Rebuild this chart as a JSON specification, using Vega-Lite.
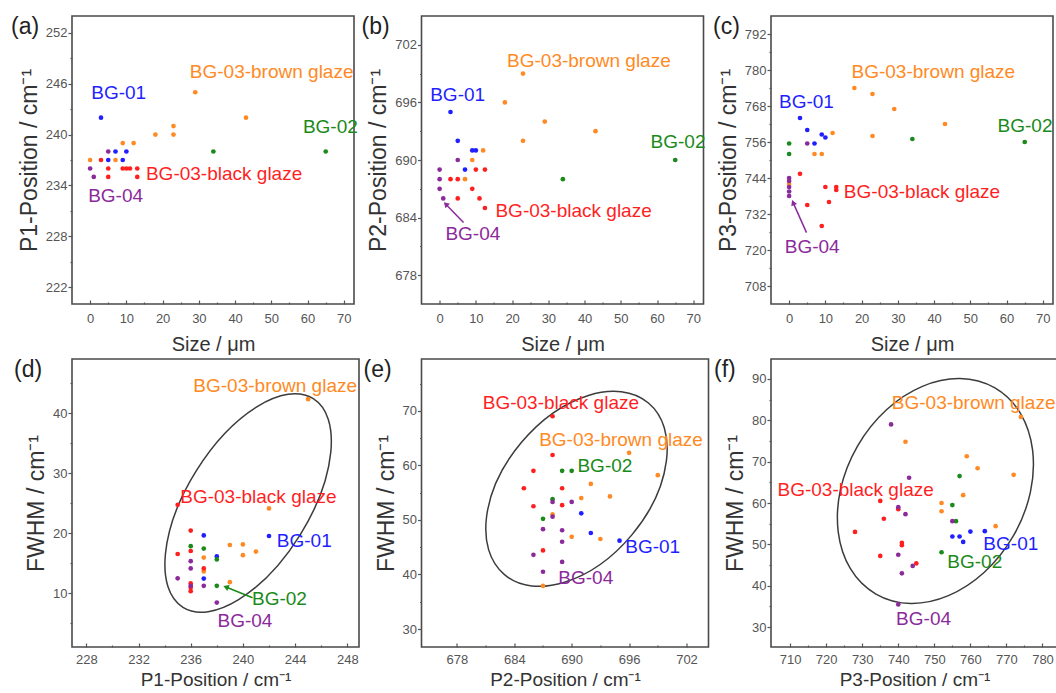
{
  "$schema": "https://vega.github.io/schema/vega-lite/v6.json",
  "padding": {"left": 10, "top": 15, "right": 2, "bottom": 2},
  "background": "white",
  "datasets": {
    "pts": [
      {"p":"a","g":"BG-01","x":3,"y":242},{"p":"a","g":"BG-01","x":7,"y":238},{"p":"a","g":"BG-01","x":10,"y":238},{"p":"a","g":"BG-01","x":5,"y":237},{"p":"a","g":"BG-01","x":9,"y":237},
      {"p":"a","g":"BG-03-brown glaze","x":29,"y":245},{"p":"a","g":"BG-03-brown glaze","x":43,"y":242},{"p":"a","g":"BG-03-brown glaze","x":23,"y":241},{"p":"a","g":"BG-03-brown glaze","x":18,"y":240},{"p":"a","g":"BG-03-brown glaze","x":23,"y":240},{"p":"a","g":"BG-03-brown glaze","x":9,"y":239},{"p":"a","g":"BG-03-brown glaze","x":12,"y":239},{"p":"a","g":"BG-03-brown glaze","x":0,"y":237},{"p":"a","g":"BG-03-brown glaze","x":7,"y":237},
      {"p":"a","g":"BG-03-black glaze","x":3,"y":237},{"p":"a","g":"BG-03-black glaze","x":5,"y":236},{"p":"a","g":"BG-03-black glaze","x":9,"y":236},{"p":"a","g":"BG-03-black glaze","x":10,"y":236},{"p":"a","g":"BG-03-black glaze","x":11,"y":236},{"p":"a","g":"BG-03-black glaze","x":13,"y":236},{"p":"a","g":"BG-03-black glaze","x":5,"y":235},{"p":"a","g":"BG-03-black glaze","x":13,"y":235},
      {"p":"a","g":"BG-02","x":34,"y":238},{"p":"a","g":"BG-02","x":65,"y":238},
      {"p":"a","g":"BG-04","x":5,"y":238},{"p":"a","g":"BG-04","x":0,"y":236},{"p":"a","g":"BG-04","x":1,"y":235},

      {"p":"b","g":"BG-01","x":3,"y":695},{"p":"b","g":"BG-01","x":5,"y":692},{"p":"b","g":"BG-01","x":9,"y":691},{"p":"b","g":"BG-01","x":10,"y":691},{"p":"b","g":"BG-01","x":7,"y":689},
      {"p":"b","g":"BG-03-brown glaze","x":23,"y":699},{"p":"b","g":"BG-03-brown glaze","x":18,"y":696},{"p":"b","g":"BG-03-brown glaze","x":29,"y":694},{"p":"b","g":"BG-03-brown glaze","x":43,"y":693},{"p":"b","g":"BG-03-brown glaze","x":23,"y":692},{"p":"b","g":"BG-03-brown glaze","x":12,"y":691},{"p":"b","g":"BG-03-brown glaze","x":9,"y":690},{"p":"b","g":"BG-03-brown glaze","x":7,"y":688},
      {"p":"b","g":"BG-03-black glaze","x":10,"y":689},{"p":"b","g":"BG-03-black glaze","x":12.5,"y":689},{"p":"b","g":"BG-03-black glaze","x":3,"y":688},{"p":"b","g":"BG-03-black glaze","x":5,"y":688},{"p":"b","g":"BG-03-black glaze","x":9,"y":687},{"p":"b","g":"BG-03-black glaze","x":5,"y":686},{"p":"b","g":"BG-03-black glaze","x":11,"y":686},{"p":"b","g":"BG-03-black glaze","x":12.5,"y":685},
      {"p":"b","g":"BG-02","x":65,"y":690},{"p":"b","g":"BG-02","x":34,"y":688},
      {"p":"b","g":"BG-04","x":5,"y":690},{"p":"b","g":"BG-04","x":0,"y":689},{"p":"b","g":"BG-04","x":0,"y":688},{"p":"b","g":"BG-04","x":0,"y":687},{"p":"b","g":"BG-04","x":1,"y":686},

      {"p":"c","g":"BG-01","x":3,"y":764},{"p":"c","g":"BG-01","x":5,"y":760},{"p":"c","g":"BG-01","x":9,"y":758.5},{"p":"c","g":"BG-01","x":10,"y":757.5},{"p":"c","g":"BG-01","x":7,"y":755.5},
      {"p":"c","g":"BG-03-brown glaze","x":18,"y":774},{"p":"c","g":"BG-03-brown glaze","x":23,"y":772},{"p":"c","g":"BG-03-brown glaze","x":29,"y":767},{"p":"c","g":"BG-03-brown glaze","x":43,"y":762},{"p":"c","g":"BG-03-brown glaze","x":12,"y":759},{"p":"c","g":"BG-03-brown glaze","x":23,"y":758},{"p":"c","g":"BG-03-brown glaze","x":7,"y":752},{"p":"c","g":"BG-03-brown glaze","x":9,"y":752},{"p":"c","g":"BG-03-brown glaze","x":0,"y":742},
      {"p":"c","g":"BG-03-black glaze","x":3,"y":745.4},{"p":"c","g":"BG-03-black glaze","x":10,"y":741},{"p":"c","g":"BG-03-black glaze","x":13,"y":741},{"p":"c","g":"BG-03-black glaze","x":13,"y":740},{"p":"c","g":"BG-03-black glaze","x":11,"y":736},{"p":"c","g":"BG-03-black glaze","x":5,"y":735},{"p":"c","g":"BG-03-black glaze","x":9,"y":728},
      {"p":"c","g":"BG-02","x":34,"y":757},{"p":"c","g":"BG-02","x":65,"y":756},{"p":"c","g":"BG-02","x":0,"y":755.5},{"p":"c","g":"BG-02","x":0,"y":752},
      {"p":"c","g":"BG-04","x":5,"y":755.5},{"p":"c","g":"BG-04","x":0,"y":744},{"p":"c","g":"BG-04","x":0,"y":743},{"p":"c","g":"BG-04","x":0,"y":741},{"p":"c","g":"BG-04","x":0,"y":739.5},{"p":"c","g":"BG-04","x":0,"y":738},

      {"p":"d","g":"BG-01","x":242,"y":19.5},{"p":"d","g":"BG-01","x":237,"y":19.6},{"p":"d","g":"BG-01","x":238,"y":16.1},{"p":"d","g":"BG-01","x":237,"y":12.4},
      {"p":"d","g":"BG-03-brown glaze","x":245,"y":42.3},{"p":"d","g":"BG-03-brown glaze","x":242,"y":24.1},{"p":"d","g":"BG-03-brown glaze","x":239,"y":18},{"p":"d","g":"BG-03-brown glaze","x":240,"y":18.1},{"p":"d","g":"BG-03-brown glaze","x":240,"y":16.3},{"p":"d","g":"BG-03-brown glaze","x":241,"y":16.9},{"p":"d","g":"BG-03-brown glaze","x":237,"y":15.9},{"p":"d","g":"BG-03-brown glaze","x":237,"y":13.6},{"p":"d","g":"BG-03-brown glaze","x":239,"y":11.8},
      {"p":"d","g":"BG-03-black glaze","x":235,"y":24.7},{"p":"d","g":"BG-03-black glaze","x":236,"y":20.4},{"p":"d","g":"BG-03-black glaze","x":236,"y":17.0},{"p":"d","g":"BG-03-black glaze","x":235,"y":16.5},{"p":"d","g":"BG-03-black glaze","x":237,"y":14.1},{"p":"d","g":"BG-03-black glaze","x":236,"y":11.6},{"p":"d","g":"BG-03-black glaze","x":236,"y":10.9},{"p":"d","g":"BG-03-black glaze","x":236,"y":10.3},
      {"p":"d","g":"BG-02","x":236,"y":17.8},{"p":"d","g":"BG-02","x":237,"y":17.4},{"p":"d","g":"BG-02","x":238,"y":15.6},{"p":"d","g":"BG-02","x":238,"y":11.2},
      {"p":"d","g":"BG-04","x":236,"y":15.3},{"p":"d","g":"BG-04","x":236,"y":14.1},{"p":"d","g":"BG-04","x":235,"y":12.45},{"p":"d","g":"BG-04","x":237,"y":11.2},{"p":"d","g":"BG-04","x":236,"y":11.2},{"p":"d","g":"BG-04","x":238,"y":8.4},

      {"p":"e","g":"BG-01","x":695,"y":46.2},{"p":"e","g":"BG-01","x":692,"y":47.6},{"p":"e","g":"BG-01","x":691,"y":51.2},
      {"p":"e","g":"BG-03-brown glaze","x":696,"y":62.3},{"p":"e","g":"BG-03-brown glaze","x":699,"y":58.2},{"p":"e","g":"BG-03-brown glaze","x":692,"y":56.6},{"p":"e","g":"BG-03-brown glaze","x":691,"y":54},{"p":"e","g":"BG-03-brown glaze","x":694,"y":54.3},{"p":"e","g":"BG-03-brown glaze","x":688,"y":51},{"p":"e","g":"BG-03-brown glaze","x":690,"y":46.9},{"p":"e","g":"BG-03-brown glaze","x":693,"y":46.5},{"p":"e","g":"BG-03-brown glaze","x":687,"y":37.9},
      {"p":"e","g":"BG-03-black glaze","x":688,"y":69},{"p":"e","g":"BG-03-black glaze","x":688,"y":61.9},{"p":"e","g":"BG-03-black glaze","x":686,"y":59},{"p":"e","g":"BG-03-black glaze","x":685,"y":55.8},{"p":"e","g":"BG-03-black glaze","x":689,"y":55.8},{"p":"e","g":"BG-03-black glaze","x":689,"y":52.7},{"p":"e","g":"BG-03-black glaze","x":686,"y":52.5},{"p":"e","g":"BG-03-black glaze","x":687,"y":44.4},
      {"p":"e","g":"BG-02","x":689,"y":59},{"p":"e","g":"BG-02","x":690,"y":59},{"p":"e","g":"BG-02","x":688,"y":53.8},{"p":"e","g":"BG-02","x":687,"y":50.2},
      {"p":"e","g":"BG-04","x":688,"y":53.3},{"p":"e","g":"BG-04","x":690,"y":53.3},{"p":"e","g":"BG-04","x":688,"y":50.6},{"p":"e","g":"BG-04","x":687,"y":48.3},{"p":"e","g":"BG-04","x":689,"y":48.1},{"p":"e","g":"BG-04","x":689,"y":46},{"p":"e","g":"BG-04","x":686,"y":43.6},{"p":"e","g":"BG-04","x":689,"y":42.3},{"p":"e","g":"BG-04","x":687,"y":40.5},

      {"p":"f","g":"BG-01","x":755,"y":51.9},{"p":"f","g":"BG-01","x":757,"y":51.9},{"p":"f","g":"BG-01","x":758,"y":50.6},{"p":"f","g":"BG-01","x":760,"y":53.1},{"p":"f","g":"BG-01","x":764,"y":53.2},
      {"p":"f","g":"BG-03-brown glaze","x":774,"y":80.8},{"p":"f","g":"BG-03-brown glaze","x":742,"y":74.8},{"p":"f","g":"BG-03-brown glaze","x":759,"y":71.3},{"p":"f","g":"BG-03-brown glaze","x":762,"y":68.4},{"p":"f","g":"BG-03-brown glaze","x":772,"y":66.8},{"p":"f","g":"BG-03-brown glaze","x":758,"y":61.9},{"p":"f","g":"BG-03-brown glaze","x":752,"y":60},{"p":"f","g":"BG-03-brown glaze","x":752,"y":58},{"p":"f","g":"BG-03-brown glaze","x":767,"y":54.4},
      {"p":"f","g":"BG-03-black glaze","x":735,"y":60.5},{"p":"f","g":"BG-03-black glaze","x":740,"y":58.5},{"p":"f","g":"BG-03-black glaze","x":736,"y":56.2},{"p":"f","g":"BG-03-black glaze","x":728,"y":53},{"p":"f","g":"BG-03-black glaze","x":741,"y":50.4},{"p":"f","g":"BG-03-black glaze","x":741,"y":49.8},{"p":"f","g":"BG-03-black glaze","x":735,"y":47.2},{"p":"f","g":"BG-03-black glaze","x":745,"y":45.4},
      {"p":"f","g":"BG-02","x":757,"y":66.5},{"p":"f","g":"BG-02","x":755,"y":59.5},{"p":"f","g":"BG-02","x":756,"y":55.6},{"p":"f","g":"BG-02","x":752,"y":48.1},
      {"p":"f","g":"BG-04","x":738,"y":79},{"p":"f","g":"BG-04","x":743,"y":66.1},{"p":"f","g":"BG-04","x":740,"y":59},{"p":"f","g":"BG-04","x":742,"y":57.3},{"p":"f","g":"BG-04","x":755,"y":55.6},{"p":"f","g":"BG-04","x":740,"y":47.5},{"p":"f","g":"BG-04","x":744,"y":44.8},{"p":"f","g":"BG-04","x":741,"y":43},{"p":"f","g":"BG-04","x":740,"y":35.5}
    ],
    "lab": [
      {"p":"a","g":"BG-01","t":"BG-01","x":0.3,"y":244.9},{"p":"a","g":"BG-03-brown glaze","t":"BG-03-brown glaze","x":27.5,"y":247.4},{"p":"a","g":"BG-02","t":"BG-02","x":58.7,"y":240.9},{"p":"a","g":"BG-03-black glaze","t":"BG-03-black glaze","x":15.4,"y":235.35},{"p":"a","g":"BG-04","t":"BG-04","x":-0.55,"y":232.75},
      {"p":"b","g":"BG-03-brown glaze","t":"BG-03-brown glaze","x":18.6,"y":700.3},{"p":"b","g":"BG-01","t":"BG-01","x":-2.6,"y":696.8},{"p":"b","g":"BG-02","t":"BG-02","x":58.2,"y":691.9},{"p":"b","g":"BG-03-black glaze","t":"BG-03-black glaze","x":15.4,"y":684.7},{"p":"b","g":"BG-04","t":"BG-04","x":1.6,"y":682.25},
      {"p":"c","g":"BG-03-brown glaze","t":"BG-03-brown glaze","x":17.2,"y":779.2},{"p":"c","g":"BG-01","t":"BG-01","x":-2.8,"y":769.2},{"p":"c","g":"BG-02","t":"BG-02","x":57.5,"y":761.2},{"p":"c","g":"BG-03-black glaze","t":"BG-03-black glaze","x":15.1,"y":739.3},{"p":"c","g":"BG-04","t":"BG-04","x":-1.2,"y":721.1},
      {"p":"d","g":"BG-03-brown glaze","t":"BG-03-brown glaze","x":236.2,"y":44.5},{"p":"d","g":"BG-03-black glaze","t":"BG-03-black glaze","x":235.2,"y":26.05},{"p":"d","g":"BG-01","t":"BG-01","x":242.6,"y":18.7},{"p":"d","g":"BG-02","t":"BG-02","x":240.7,"y":8.95},{"p":"d","g":"BG-04","t":"BG-04","x":238.05,"y":5.4},
      {"p":"e","g":"BG-03-black glaze","t":"BG-03-black glaze","x":680.7,"y":71.5},{"p":"e","g":"BG-03-brown glaze","t":"BG-03-brown glaze","x":686.6,"y":64.6},{"p":"e","g":"BG-02","t":"BG-02","x":690.6,"y":59.8},{"p":"e","g":"BG-01","t":"BG-01","x":695.6,"y":45.1},{"p":"e","g":"BG-04","t":"BG-04","x":688.6,"y":39.3},
      {"p":"f","g":"BG-03-brown glaze","t":"BG-03-brown glaze","x":738.2,"y":84.1},{"p":"f","g":"BG-03-black glaze","t":"BG-03-black glaze","x":706.5,"y":63.1},{"p":"f","g":"BG-01","t":"BG-01","x":763.6,"y":50.2},{"p":"f","g":"BG-02","t":"BG-02","x":753.6,"y":45.8},{"p":"f","g":"BG-04","t":"BG-04","x":739.4,"y":32.05}
    ],
    "arr": [
      {"p":"b","g":"BG-04","x":1.7,"y":685.4,"x2":6.6,"y2":683.5},
      {"p":"c","g":"BG-04","x":1.1,"y":735.8,"x2":4.8,"y2":725.8},
      {"p":"d","g":"BG-02","x":238.7,"y":11.0,"x2":240.74,"y2":9.22}
    ],
    "ell": [
      {"p":"d","x":240.4,"y":25},
      {"p":"e","x":690.5,"y":55.7},
      {"p":"f","x":750.3,"y":62.9}
    ]
  },
  "concat": [
    {
      "width": 282, "height": 288,
      "title": {"text": "(a)", "anchor": "start", "frame": "group", "baseline": "top", "offset": 0, "dx": -61, "dy": 23},
      "encoding": {
        "x": {"field": "x", "type": "quantitative", "scale": {"domain": [-5, 72.8], "nice": false, "zero": false},
              "axis": {"title": "Size / μm", "values": [0,5,10,15,20,25,30,35,40,45,50,55,60,65,70], "labelExpr": "datum.value % 10 === 0 ? datum.label : ''", "tickSize": {"condition": {"test": "datum.value % 10 === 0", "value": -4}, "value": -2}, "labelPadding": 12, "titlePadding": 7}},
        "y": {"field": "y", "type": "quantitative", "scale": {"domain": [220, 254], "nice": false, "zero": false},
              "axis": {"title": "P1-Position / cm⁻¹", "values": [222,225,228,231,234,237,240,243,246,249,252], "labelExpr": "datum.value % 6 === 0 ? datum.label : ''", "tickSize": {"condition": {"test": "datum.value % 6 === 0", "value": 4}, "value": 2}, "labelPadding": 1, "titlePadding": 4}}
      },
      "layer": [
        {"data": {"name": "pts"}, "transform": [{"filter": "datum.p === 'a'"}], "mark": {"type": "circle", "size": 22, "opacity": 1},
         "encoding": {"color": {"field": "g", "type": "nominal", "scale": {"domain": ["BG-01","BG-02","BG-03-brown glaze","BG-03-black glaze","BG-04"], "range": ["#1f1fff","#1a8a1a","#ff8a24","#ff1f1f","#8b2a9b"]}, "legend": null}}},
        {"data": {"name": "lab"}, "transform": [{"filter": "datum.p === 'a'"}], "mark": {"type": "text", "align": "left", "baseline": "middle", "fontSize": 19},
         "encoding": {"text": {"field": "t"}, "color": {"field": "g", "type": "nominal", "legend": null}}}
      ]
    },
    {
      "width": 282, "height": 288,
      "title": {"text": "(b)", "anchor": "start", "frame": "group", "baseline": "top", "offset": 0, "dx": -60, "dy": 23},
      "encoding": {
        "x": {"field": "x", "type": "quantitative", "scale": {"domain": [-5, 72.8], "nice": false, "zero": false},
              "axis": {"title": "Size / μm", "values": [0,5,10,15,20,25,30,35,40,45,50,55,60,65,70], "labelExpr": "datum.value % 10 === 0 ? datum.label : ''", "tickSize": {"condition": {"test": "datum.value % 10 === 0", "value": -4}, "value": -2}, "labelPadding": 12, "titlePadding": 7}},
        "y": {"field": "y", "type": "quantitative", "scale": {"domain": [675, 705], "nice": false, "zero": false},
              "axis": {"title": "P2-Position / cm⁻¹", "values": [678,681,684,687,690,693,696,699,702], "labelExpr": "datum.value % 6 === 0 ? datum.label : ''", "tickSize": {"condition": {"test": "datum.value % 6 === 0", "value": 4}, "value": 2}, "labelPadding": 1, "titlePadding": 4}}
      },
      "layer": [
        {"data": {"name": "pts"}, "transform": [{"filter": "datum.p === 'b'"}], "mark": {"type": "circle", "size": 22, "opacity": 1},
         "encoding": {"color": {"field": "g", "type": "nominal", "legend": null}}},
        {"data": {"name": "arr"}, "transform": [{"filter": "datum.p === 'b'"}], "mark": {"type": "rule", "strokeWidth": 1.5},
         "encoding": {"x2": {"field": "x2"}, "y2": {"field": "y2"}, "color": {"field": "g", "type": "nominal", "legend": null}}},
        {"data": {"name": "arr"}, "transform": [{"filter": "datum.p === 'b'"}], "mark": {"type": "point", "shape": "triangle-up", "filled": true, "size": 40, "angle": 315, "opacity": 1},
         "encoding": {"color": {"field": "g", "type": "nominal", "legend": null}}},
        {"data": {"name": "lab"}, "transform": [{"filter": "datum.p === 'b'"}], "mark": {"type": "text", "align": "left", "baseline": "middle", "fontSize": 19},
         "encoding": {"text": {"field": "t"}, "color": {"field": "g", "type": "nominal", "legend": null}}}
      ]
    },
    {
      "width": 282, "height": 288,
      "title": {"text": "(c)", "anchor": "start", "frame": "group", "baseline": "top", "offset": 0, "dx": -58, "dy": 23},
      "encoding": {
        "x": {"field": "x", "type": "quantitative", "scale": {"domain": [-5, 72.8], "nice": false, "zero": false},
              "axis": {"title": "Size / μm", "values": [0,5,10,15,20,25,30,35,40,45,50,55,60,65,70], "labelExpr": "datum.value % 10 === 0 ? datum.label : ''", "tickSize": {"condition": {"test": "datum.value % 10 === 0", "value": -4}, "value": -2}, "labelPadding": 12, "titlePadding": 7}},
        "y": {"field": "y", "type": "quantitative", "scale": {"domain": [702, 798], "nice": false, "zero": false},
              "axis": {"title": "P3-Position / cm⁻¹", "values": [708,714,720,726,732,738,744,750,756,762,768,774,780,786,792], "labelExpr": "datum.value % 12 === 0 ? datum.label : ''", "tickSize": {"condition": {"test": "datum.value % 12 === 0", "value": 4}, "value": 2}, "labelPadding": 1, "titlePadding": 4}}
      },
      "layer": [
        {"data": {"name": "pts"}, "transform": [{"filter": "datum.p === 'c'"}], "mark": {"type": "circle", "size": 22, "opacity": 1},
         "encoding": {"color": {"field": "g", "type": "nominal", "legend": null}}},
        {"data": {"name": "arr"}, "transform": [{"filter": "datum.p === 'c'"}], "mark": {"type": "rule", "strokeWidth": 1.5},
         "encoding": {"x2": {"field": "x2"}, "y2": {"field": "y2"}, "color": {"field": "g", "type": "nominal", "legend": null}}},
        {"data": {"name": "arr"}, "transform": [{"filter": "datum.p === 'c'"}], "mark": {"type": "point", "shape": "triangle-up", "filled": true, "size": 40, "angle": 337, "opacity": 1},
         "encoding": {"color": {"field": "g", "type": "nominal", "legend": null}}},
        {"data": {"name": "lab"}, "transform": [{"filter": "datum.p === 'c'"}], "mark": {"type": "text", "align": "left", "baseline": "middle", "fontSize": 19},
         "encoding": {"text": {"field": "t"}, "color": {"field": "g", "type": "nominal", "legend": null}}}
      ]
    },
    {
      "width": 287, "height": 288,
      "title": {"text": "(d)", "anchor": "start", "frame": "group", "baseline": "top", "offset": 0, "dx": -58, "dy": 23},
      "encoding": {
        "x": {"field": "x", "type": "quantitative", "scale": {"domain": [226.9, 248.9], "nice": false, "zero": false},
              "axis": {"title": "P1-Position / cm⁻¹", "values": [228,230,232,234,236,238,240,242,244,246,248], "labelExpr": "datum.value % 4 === 0 ? datum.label : ''", "tickSize": {"condition": {"test": "datum.value % 4 === 0", "value": -4}, "value": -2}, "labelPadding": 10, "titlePadding": 2, "titleFontSize": 19}},
        "y": {"field": "y", "type": "quantitative", "scale": {"domain": [1, 49], "nice": false, "zero": false},
              "axis": {"title": "FWHM / cm⁻¹", "values": [5,10,15,20,25,30,35,40,45], "labelExpr": "datum.value % 10 === 0 ? datum.label : ''", "tickSize": {"condition": {"test": "datum.value % 10 === 0", "value": 4}, "value": 2}, "labelPadding": 1, "titlePadding": 4}}
      },
      "layer": [
        {"data": {"name": "ell"}, "transform": [{"filter": "datum.p === 'd'"}], "mark": {"type": "point", "shape": "M -1 0 A 1 0.496 0 0 1 0 -0.496 A 1 0.496 0 0 1 1 0 A 1 0.496 0 0 1 0 0.496 A 1 0.496 0 0 1 -1 0 Z", "size": 60516, "angle": 302, "filled": false, "stroke": "#3c3c3c", "strokeWidth": 1.5, "opacity": 1}},
        {"data": {"name": "pts"}, "transform": [{"filter": "datum.p === 'd'"}], "mark": {"type": "circle", "size": 22, "opacity": 1},
         "encoding": {"color": {"field": "g", "type": "nominal", "legend": null}}},
        {"data": {"name": "arr"}, "transform": [{"filter": "datum.p === 'd'"}], "mark": {"type": "rule", "strokeWidth": 1.5},
         "encoding": {"x2": {"field": "x2"}, "y2": {"field": "y2"}, "color": {"field": "g", "type": "nominal", "legend": null}}},
        {"data": {"name": "arr"}, "transform": [{"filter": "datum.p === 'd'"}], "mark": {"type": "point", "shape": "triangle-up", "filled": true, "size": 40, "angle": 292, "opacity": 1},
         "encoding": {"color": {"field": "g", "type": "nominal", "legend": null}}},
        {"data": {"name": "lab"}, "transform": [{"filter": "datum.p === 'd'"}], "mark": {"type": "text", "align": "left", "baseline": "middle", "fontSize": 19},
         "encoding": {"text": {"field": "t"}, "color": {"field": "g", "type": "nominal", "legend": null}}}
      ]
    },
    {
      "width": 287, "height": 288,
      "title": {"text": "(e)", "anchor": "start", "frame": "group", "baseline": "top", "offset": 0, "dx": -58, "dy": 23},
      "encoding": {
        "x": {"field": "x", "type": "quantitative", "scale": {"domain": [674.3, 704.3], "nice": false, "zero": false},
              "axis": {"title": "P2-Position / cm⁻¹", "values": [678,681,684,687,690,693,696,699,702], "labelExpr": "datum.value % 6 === 0 ? datum.label : ''", "tickSize": {"condition": {"test": "datum.value % 6 === 0", "value": -4}, "value": -2}, "labelPadding": 10, "titlePadding": 2, "titleFontSize": 19}},
        "y": {"field": "y", "type": "quantitative", "scale": {"domain": [26.7, 79.5], "nice": false, "zero": false},
              "axis": {"title": "FWHM / cm⁻¹", "values": [30,35,40,45,50,55,60,65,70,75], "labelExpr": "datum.value % 10 === 0 ? datum.label : ''", "tickSize": {"condition": {"test": "datum.value % 10 === 0", "value": 4}, "value": 2}, "labelPadding": 1, "titlePadding": 4}}
      },
      "layer": [
        {"data": {"name": "ell"}, "transform": [{"filter": "datum.p === 'e'"}], "mark": {"type": "point", "shape": "M -1 0 A 1 0.643 0 0 1 0 -0.643 A 1 0.643 0 0 1 1 0 A 1 0.643 0 0 1 0 0.643 A 1 0.643 0 0 1 -1 0 Z", "size": 50176, "angle": 310, "filled": false, "stroke": "#3c3c3c", "strokeWidth": 1.5, "opacity": 1}},
        {"data": {"name": "pts"}, "transform": [{"filter": "datum.p === 'e'"}], "mark": {"type": "circle", "size": 22, "opacity": 1},
         "encoding": {"color": {"field": "g", "type": "nominal", "legend": null}}},
        {"data": {"name": "lab"}, "transform": [{"filter": "datum.p === 'e'"}], "mark": {"type": "text", "align": "left", "baseline": "middle", "fontSize": 19},
         "encoding": {"text": {"field": "t"}, "color": {"field": "g", "type": "nominal", "legend": null}}}
      ]
    },
    {
      "width": 287, "height": 288,
      "title": {"text": "(f)", "anchor": "start", "frame": "group", "baseline": "top", "offset": 0, "dx": -57, "dy": 23},
      "encoding": {
        "x": {"field": "x", "type": "quantitative", "scale": {"domain": [704.7, 784.3], "nice": false, "zero": false},
              "axis": {"title": "P3-Position / cm⁻¹", "values": [710,715,720,725,730,735,740,745,750,755,760,765,770,775,780], "labelExpr": "datum.value % 10 === 0 ? datum.label : ''", "tickSize": {"condition": {"test": "datum.value % 10 === 0", "value": -4}, "value": -2}, "labelPadding": 10, "titlePadding": 2, "titleFontSize": 19}},
        "y": {"field": "y", "type": "quantitative", "scale": {"domain": [25.2, 94.8], "nice": false, "zero": false},
              "axis": {"title": "FWHM / cm⁻¹", "values": [30,35,40,45,50,55,60,65,70,75,80,85,90], "labelExpr": "datum.value % 10 === 0 ? datum.label : ''", "tickSize": {"condition": {"test": "datum.value % 10 === 0", "value": 4}, "value": 2}, "labelPadding": 1, "titlePadding": 4}}
      },
      "layer": [
        {"data": {"name": "ell"}, "transform": [{"filter": "datum.p === 'f'"}], "mark": {"type": "point", "shape": "M -1 0 A 1 0.756 0 0 1 0 -0.756 A 1 0.756 0 0 1 1 0 A 1 0.756 0 0 1 0 0.756 A 1 0.756 0 0 1 -1 0 Z", "size": 56644, "angle": 300, "filled": false, "stroke": "#3c3c3c", "strokeWidth": 1.5, "opacity": 1}},
        {"data": {"name": "pts"}, "transform": [{"filter": "datum.p === 'f'"}], "mark": {"type": "circle", "size": 22, "opacity": 1},
         "encoding": {"color": {"field": "g", "type": "nominal", "legend": null}}},
        {"data": {"name": "lab"}, "transform": [{"filter": "datum.p === 'f'"}], "mark": {"type": "text", "align": "left", "baseline": "middle", "fontSize": 19},
         "encoding": {"text": {"field": "t"}, "color": {"field": "g", "type": "nominal", "legend": null}}}
      ]
    }
  ],
  "columns": 3,
  "spacing": {"row": 55, "column": 62.5},
  "bounds": "flush",
  "config": {
    "font": "Liberation Sans",
    "view": {"stroke": "#4a4a4a", "strokeWidth": 1.6},
    "axis": {"labelFont": "Liberation Sans", "titleFont": "Liberation Sans", "labelFontSize": 13, "titleFontSize": 20, "labelColor": "#555", "titleColor": "#333", "titleFontWeight": "normal", "domain": false, "grid": false, "tickColor": "#555", "tickWidth": 1.2, "labelOverlap": false, "labelFlush": false},
    "axisY": {"titleFontSize": 23},
    "title": {"font": "Liberation Sans", "fontSize": 23, "fontWeight": "normal", "color": "#222"},
    "text": {"font": "Liberation Sans"}
  }
}
